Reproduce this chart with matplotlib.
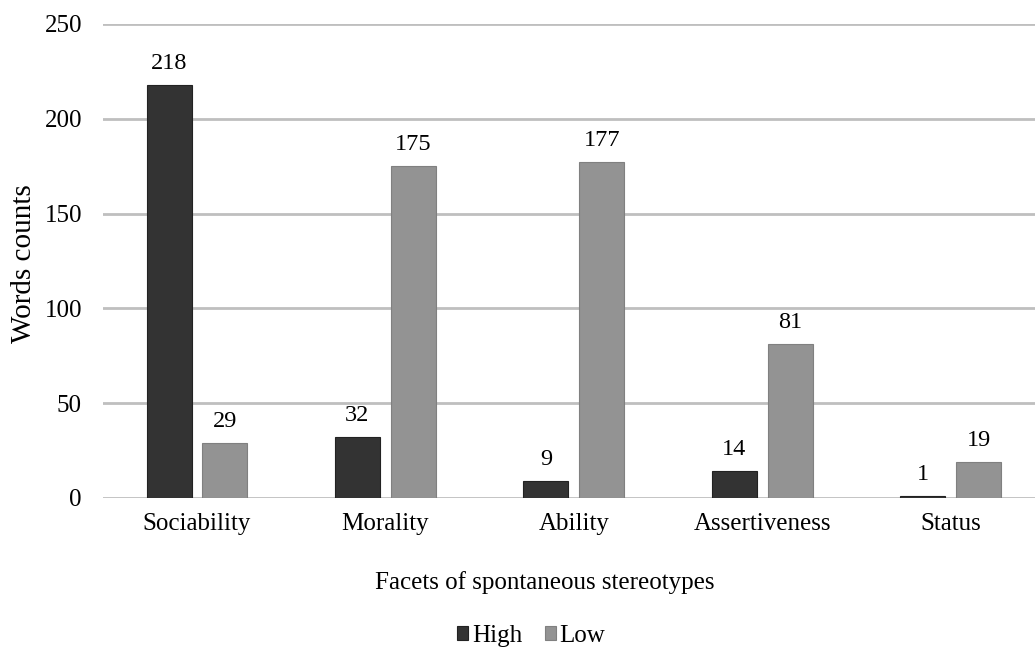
import matplotlib
matplotlib.use("Agg")
import matplotlib.pyplot as plt
import numpy as np

categories = ["Sociability", "Morality", "Ability", "Assertiveness", "Status"]
high = [218, 32, 9, 14, 1]
low = [29, 175, 177, 81, 19]
yticks = [0, 50, 100, 150, 200, 250]

plt.rcParams['font.family'] = ['Liberation Serif', 'DejaVu Serif']

W, H = 1035, 648
fig = plt.figure(figsize=(W / 100, H / 100), dpi=100)
ax = fig.add_axes([102.8 / W, 1 - 498 / H, 942 / W, 474 / H])

x = np.arange(len(categories))
w = 0.239
gap = 0.058
off = (w + gap) / 2
b1 = ax.bar(x - off, high, w, color="#333333", edgecolor="#222222", linewidth=0.8, label="High", zorder=3)
b2 = ax.bar(x + off, low, w, color="#939393", edgecolor="#808080", linewidth=0.8, label="Low", zorder=3)

for bars, vals in ((b1, high), (b2, low)):
    for r, v in zip(bars, vals):
        ax.annotate(str(v), (r.get_x() + r.get_width() / 2, r.get_height()),
                    xytext=(0, 8), textcoords="offset points",
                    ha="center", va="bottom", fontsize=17.5)

ax.set_xlim(-0.5, len(categories) - 0.5)
ax.set_ylim(0, 250)
ax.set_yticks(yticks)
ax.set_xticks(x)
ax.set_xticklabels(categories, fontsize=18)
ax.tick_params(axis="y", labelsize=18, length=0, pad=15)
ax.tick_params(axis="x", length=0, pad=11)
ax.grid(axis="y", color="#bfbfbf", linewidth=2, zorder=0)
for s in ax.spines.values():
    s.set_visible(False)

fig.text(24 / W, 1 - 264 / H, "Words counts", fontsize=21, rotation=90,
         ha="center", va="center")
fig.text(545 / W, 1 - 583 / H, "Facets of spontaneous stereotypes", fontsize=18,
         ha="center", va="center")

fig.legend(handles=[b1, b2], labels=["High", "Low"], loc="center", bbox_to_anchor=(531 / W, 1 - 636 / H),
           ncol=2, frameon=False, fontsize=18, handlelength=0.45, handleheight=0.5,
           handletextpad=0.15, columnspacing=0.9)

fig.savefig("out.png", dpi=100)
